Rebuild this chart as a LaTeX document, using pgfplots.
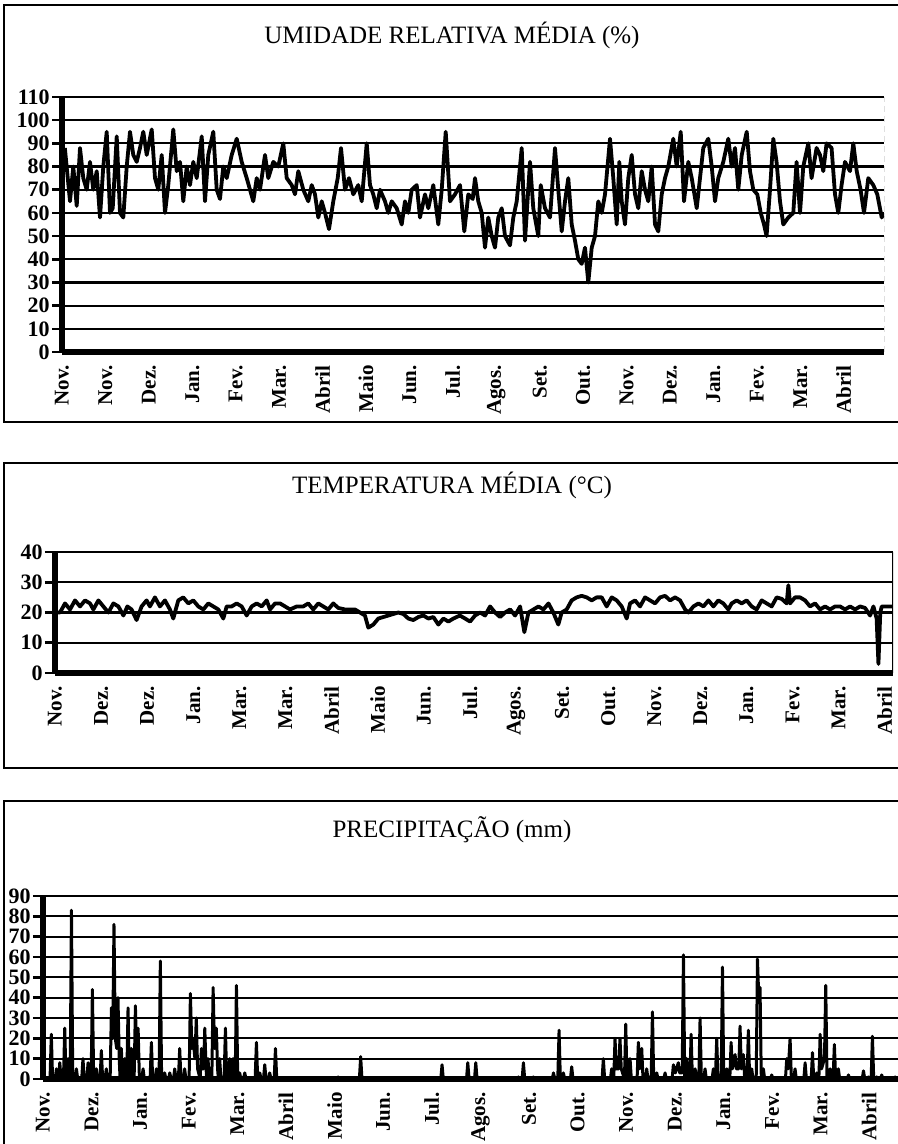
\documentclass[border=0pt]{standalone}
\usepackage{pgfplots}
\pgfplotsset{compat=1.18}
\usepackage{fontspec}
\setmainfont{Liberation Serif}

\pgfplotstableread{
d v
2 88
5.6 65
7.9 80
10.3 63
12.6 88
14.9 75
17.3 70
19.6 82
21.9 70
24.3 78
26.6 58
28.9 80
31.3 95
33.6 60
35.5 62
38.3 93
40.6 60
42.9 58
45.3 80
47.6 95
49.9 85
52.3 82
54.6 88
56.9 95
59.3 85
62.8 96
65.1 75
67.4 70
69.8 85
72.1 60
74.4 72
77.9 96
80.3 78
82.6 82
84.9 65
87.3 80
89.6 72
91.9 82
94.3 75
97.8 93
100.1 65
102.4 85
105.9 95
108.3 70
110.6 66
112.9 80
115.3 75
118.8 85
122.3 92
125.8 82
129.3 75
131.6 70
133.9 65
136.3 75
138.6 70
142.1 85
144.4 75
147.9 82
151.4 80
154.9 90
157.3 75
160.8 72
163.1 68
165.4 78
168.9 70
172.4 65
174.8 72
177.1 68
179.4 58
181.8 65
184.1 60
186.9 53
189.9 65
193.0 75
195.3 88
198.1 70
200.9 75
203.9 68
207.4 72
209.8 65
213.3 90
215.6 72
217.9 68
220.3 62
222.6 70
226.1 65
228.4 60
230.8 65
234.3 62
237.8 55
240.1 65
242.4 60
244.8 70
248.3 72
250.6 58
254.1 68
256.4 62
259.9 72
263.4 55
265.8 70
268.6 95
271.6 65
275.1 68
278.6 72
281.6 52
284.4 68
287.5 66
289.1 75
291.4 65
293.8 60
296.1 45
298.4 58
300.8 50
303.1 45
305.4 58
307.8 62
310.1 50
313.6 46
315.9 58
318.3 65
321.8 88
324.1 48
327.6 82
329.9 62
333.4 50
335.1 72
338.1 62
341.6 58
345.1 88
347.4 70
349.8 52
352.1 65
354.4 75
356.8 55
359.1 48
361.4 40
363.8 38
366.1 45
368.4 30
370.8 45
373.1 50
375.4 65
377.8 60
380.1 68
383.6 92
385.9 75
388.3 55
390.1 82
391.8 65
394.1 55
396.4 75
398.8 85
401.1 68
403.4 62
405.8 78
408.1 70
410.4 65
412.8 80
415.1 55
417.4 52
419.8 68
422.1 75
424.4 80
427.9 92
430.3 80
433.1 95
435.4 65
438.4 82
440.8 75
444.3 62
446.6 75
448.9 88
452.4 92
454.8 80
457.1 65
459.4 75
462.9 82
466.4 92
468.8 80
471.1 88
473.4 70
475.8 85
479.3 95
481.6 78
483.9 70
486.7 68
489.1 60
491.4 55
493.2 50
495.6 70
497.9 92
500.2 82
502.6 65
504.9 55
508.4 58
511.9 60
514.2 82
516.6 60
518.9 80
522.4 90
524.7 75
528.2 88
530.6 85
532.9 78
535.2 90
538.7 88
541.1 68
543.4 60
545.7 72
548.1 82
551.6 78
553.9 90
556.3 78
559.0 70
561.4 60
564.4 75
567.9 72
570.7 68
573.8 58
575.2 60
}\umidade

\pgfplotstableread{
d v
0.5 20
3.3 20
6.6 23
9.9 21
13.2 24
16.5 22
19.8 24
23.1 23
25.3 21
28.6 24
31.9 22
35.2 20
38.5 23
41.8 22
45.1 19
47.7 22
50.5 21
53.8 17.5
57.1 22
60.4 24
62.6 22
65.9 25
69.2 22
72.5 24
75.8 21
78.0 18
81.3 24
84.6 25
87.9 23
91.2 24
94.5 22
97.8 21
101.1 23
104.4 22
107.7 21
111.0 18
113.2 22
116.5 22
119.8 23
123.1 22
126.4 19
129.7 22
133.0 23
136.3 22
139.6 24
141.8 21
145.1 23
148.4 23
151.7 22
155.0 21
159.4 22
163.7 22
167.0 23
170.3 21
173.6 23
176.9 22
180.2 21
183.5 23
186.8 21.5
191.2 21
194.5 21
197.8 21
201.1 20
204.4 19
206.6 15
209.9 16
213.2 18
216.5 18.5
219.8 19
223.1 19.5
226.4 20
229.7 19.5
233.0 18
236.3 17.5
239.6 18.5
242.9 19
246.2 18
249.5 18.5
252.8 16
256.1 18
259.4 17
262.7 18
267.0 19
270.4 18
273.7 17
277.0 19
280.3 20
283.6 19
286.9 22
290.2 20
293.5 18.5
296.8 20
300.1 21
303.4 19
306.7 22
309.5 13.5
312.2 20
315.5 21
318.8 22
322.1 21
325.4 23
328.6 20
331.9 16
334.1 20
337.4 21
340.7 24
344.0 25
347.3 25.5
350.6 25
353.9 24
357.2 25
360.5 25
363.8 22
367.1 25
370.4 24
373.7 22
377.0 18
379.2 23
382.5 24
385.8 22
389.1 25
392.4 24
395.7 23
399.0 25
402.3 25.5
405.6 24
408.9 25
412.2 24
415.5 21
417.7 20
421.0 22
424.3 23
427.6 22
430.9 24
434.2 22
437.4 24
440.7 23
444.0 21
446.2 23
449.5 24
452.8 23
456.1 24
459.4 22
462.7 21
466.0 24
469.3 23
472.6 22
475.9 25
479.2 24.5
482.5 23
483.6 29
484.7 23
488.0 25
491.3 25
494.6 24
497.9 22
501.2 23
504.5 21
507.8 22
511.1 21
514.4 22
517.7 22
521.0 21
524.3 22
527.6 21
530.9 22
534.2 21.5
537.5 19
539.7 22
541.8 18
543.0 3
544.2 20
545.2 22
548.5 22
552.5 22
}\temperatura

\pgfplotstableread{
d v
0 0
4.4 0
5.2 22
6.0 0
7.6 0
8.4 5
9.2 0
9.7 0
10.5 8
11.3 0
12.8 0
13.6 25
14.4 0
14.9 0
15.7 10
16.5 0
17.0 0
17.8 83
18.6 0
20.1 0
20.9 5
21.7 0
24.2 0
25.0 10
25.8 0
27.4 0
28.2 8
29.0 0
30.1 0
30.9 44
31.7 0
32.6 0
33.4 5
34.2 0
35.7 0
36.5 14
37.3 0
38.8 0
39.6 5
40.4 0
42.0 0
42.8 35
43.6 20
44.4 76
45.2 20
46.1 15
46.9 40
47.7 10
48.2 0
49.0 15
49.8 0
50.3 0
51.1 10
51.9 0
52.4 0
53.2 35
54.0 0
54.5 0
55.3 15
56.1 0
57.0 0
57.8 36
58.6 10
59.5 25
60.3 0
61.8 0
62.6 5
63.4 0
67.0 0
67.8 18
68.6 0
70.1 0
70.9 5
71.7 0
72.6 0
73.4 58
74.2 0
75.3 0
76.1 3
76.9 0
78.5 0
79.3 3
80.1 0
81.6 0
82.4 5
83.2 0
84.7 0
85.5 15
86.3 0
87.8 0
88.6 5
89.4 0
91.4 0
92.2 42
93.1 15
93.9 20
95.0 10
95.9 30
96.7 5
98.3 0
99.1 15
99.9 5
100.4 5
101.2 25
102.0 5
102.4 0
103.2 10
104.0 0
105.6 0
106.4 45
107.3 15
108.4 25
109.2 5
109.7 0
110.5 10
111.3 0
113.3 0
114.1 25
114.9 0
116.0 0
116.8 10
117.6 0
118.1 0
118.9 10
119.7 0
120.2 0
121.0 46
121.8 0
122.2 0
123.0 3
123.8 0
125.4 0
126.2 3
127.0 0
132.7 0
133.5 18
134.3 0
134.8 0
135.6 3
136.4 0
137.9 0
138.7 7
139.5 0
141.0 0
141.8 3
142.6 0
144.6 0
145.4 15
146.2 0
183.8 0
184.6 1
185.4 0
197.9 0
198.7 11
199.5 0
248.8 0
249.6 7
250.4 0
264.9 0
265.7 8
266.5 0
269.9 0
270.7 8
271.5 0
296.6 0
297.4 1
298.2 0
299.7 0
300.5 8
301.3 0
305.9 0
306.7 1
307.5 0
318.5 0
319.3 3
320.1 0
322.0 0
322.8 24
323.6 0
324.7 0
325.5 3
326.3 0
329.9 0
330.7 6
331.5 0
349.7 0
350.5 10
351.3 0
354.9 0
355.7 5
356.5 0
357.0 0
357.8 20
358.6 5
360.1 5
360.9 20
361.7 5
363.7 0
364.5 27
365.3 0
366.4 0
367.2 10
368.0 0
371.6 0
372.4 18
373.3 5
374.5 15
375.3 0
376.8 0
377.6 5
378.4 0
380.4 0
381.2 33
382.0 0
383.1 0
383.9 3
384.7 0
388.3 0
389.1 3
389.9 0
393.5 0
394.3 7
395.5 3
397.4 8
398.2 3
399.8 3
400.6 61
401.4 0
401.9 0
402.7 10
403.5 0
404.6 0
405.4 22
406.2 0
407.1 0
407.9 5
408.7 0
410.2 0
411.0 30
411.8 0
413.3 0
414.1 5
414.9 0
418.5 0
419.3 5
420.1 0
420.6 0
421.4 20
422.2 0
424.2 0
425.0 55
425.8 0
426.9 0
427.7 5
428.5 0
429.6 0
430.4 18
431.2 5
432.9 12
433.7 5
435.2 5
436.0 26
436.8 5
438.1 12
438.9 0
440.4 0
441.2 24
442.0 0
442.5 0
443.3 5
444.1 0
446.1 0
446.9 59
447.7 40
448.5 45
449.3 0
449.8 0
450.6 5
451.4 0
455.0 0
455.8 2
456.6 0
464.4 0
465.2 10
466.2 5
467.3 20
468.1 0
469.6 0
470.4 5
471.2 0
475.9 0
476.7 8
477.5 0
480.5 0
481.3 13
482.1 0
483.2 0
484.0 3
484.8 0
485.3 0
486.1 22
487.0 5
488.8 10
489.6 46
490.4 0
491.5 0
492.3 5
493.1 0
494.2 0
495.0 17
495.8 0
496.7 0
497.5 5
498.3 0
503.0 0
503.8 2
504.6 0
512.4 0
513.2 4
514.0 0
515.5 0
516.3 1
517.1 0
518.0 0
518.8 21
519.6 0
520.7 0
521.5 1
522.3 0
523.8 0
524.6 2
525.4 0
532.2 0
533.0 1
533.8 0
534.8 0
}\precip

\pgfplotsset{
  painel/.style={
    scale only axis,
    anchor=south west,
    axis x line*=bottom,
    axis y line*=left,
    axis line style={line width=2.6pt,-},
    ymajorgrids,
    grid style={line width=1.1pt,black},
    tick align=outside,
    major tick length=5pt,
    xtick style={draw=none},
    ytick style={line width=1.3pt,black},
    ymin=0,
    yticklabel style={font=\fontsize{11}{11}\selectfont\bfseries,inner sep=1pt},
    xticklabel style={font=\fontsize{10.5}{10.5}\selectfont\bfseries,rotate=90,anchor=east,inner sep=1.5pt},
    /pgf/number format/assume math mode=true,
    xtick={0,30.4,60.8,91.2,121.6,152,182.4,212.8,243.2,273.6,304,334.4,364.8,395.2,425.6,456,486.4,516.8,547.2},
  },
  serie/.style={black,line width=1.9pt,line join=round,no marks},
}

\begin{document}
\begin{tikzpicture}
\useasboundingbox (0pt,0pt) rectangle (449pt,572pt);
\clip (0pt,0pt) rectangle (449pt,572pt);

% frames
\draw[line width=0.9pt] (2pt,361pt) rectangle (456pt,569.5pt);
\draw[line width=0.9pt] (2pt,188pt) rectangle (456pt,340.5pt);
\draw[line width=0.9pt] (2pt,-10pt) rectangle (456pt,171.5pt);

\node[font=\fontsize{12.5}{14}\selectfont] at (226pt,554.5pt) {UMIDADE RELATIVA MÉDIA (\%)};
\node[font=\fontsize{12.5}{14}\selectfont] at (226pt,329.5pt) {TEMPERATURA MÉDIA (°C)};
\node[font=\fontsize{12.5}{14}\selectfont] at (226pt,157pt) {PRECIPITAÇÃO (mm)};

% Panel 1
\begin{axis}[painel,
  at={(31pt,396pt)}, width=411pt, height=127.5pt,
  xmin=0, xmax=575.4, ymax=110,
  ytick={0,10,...,110},
  xticklabels={Nov.,Nov.,Dez.,Jan.,Fev.,Mar.,Abril,Maio,Jun.,Jul.,Agos.,Set.,Out.,Nov.,Dez.,Jan.,Fev.,Mar.,Abril},
]
\addplot[serie] table[x=d,y=v] {\umidade};
\draw[densely dashed,line width=0.5pt] (rel axis cs:1,0) -- (rel axis cs:1,1);
\end{axis}

% Panel 2
\begin{axis}[painel,
  at={(27.5pt,235.5pt)}, width=419pt, height=60.5pt,
  xmin=0, xmax=552.6, ymax=40,
  ytick={0,10,...,40},
  xticklabels={Nov.,Dez.,Dez.,Jan.,Mar.,Mar.,Abril,Maio,Jun.,Jul.,Agos.,Set.,Out.,Nov.,Dez.,Jan.,Fev.,Mar.,Abril},
]
\addplot[serie] table[x=d,y=v] {\temperatura};
\draw[line width=0.6pt] (rel axis cs:1,0) -- (rel axis cs:1,1);
\end{axis}

% Panel 3
\begin{axis}[painel,
  at={(21.5pt,32.5pt)}, width=427.5pt, height=91.5pt,
  xmin=0, xmax=534.8, ymax=90,
  ytick={0,10,...,90},
  xtick={0,30.4,60.8,91.2,121.6,152,182.4,212.8,243.2,273.6,304,334.4,364.8,395.2,425.6,456,486.4,516.8},
  xticklabels={Nov.,Dez.,Jan.,Fev.,Mar.,Abril,Maio,Jun.,Jul.,Agos.,Set.,Out.,Nov.,Dez.,Jan.,Fev.,Mar.,Abril},
]
\addplot[serie,line width=1.5pt] table[x=d,y=v] {\precip};
\end{axis}
\end{tikzpicture}
\end{document}
